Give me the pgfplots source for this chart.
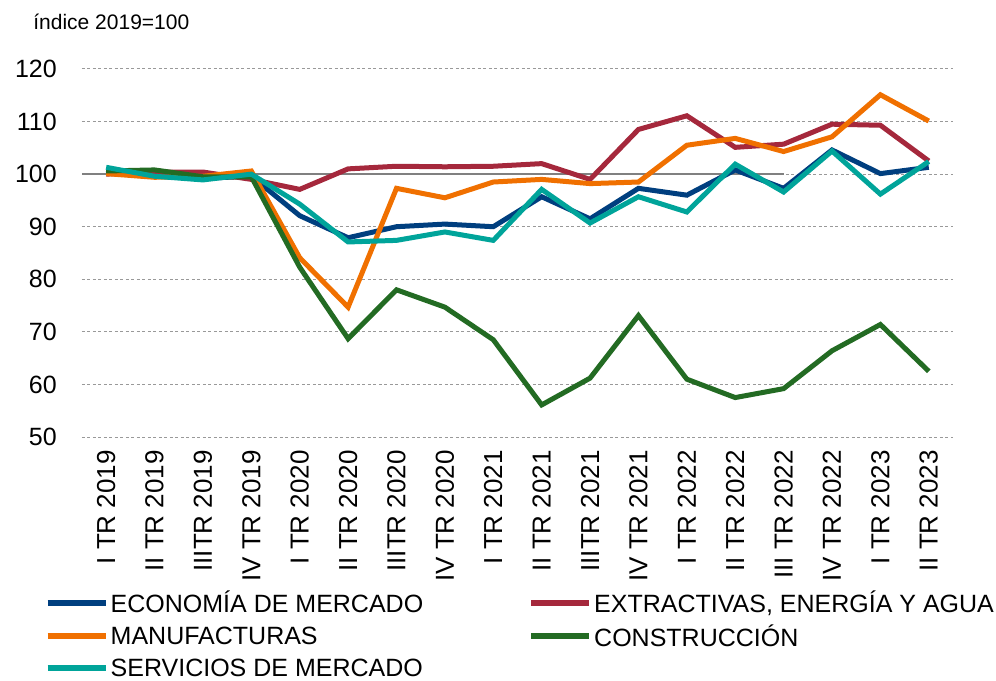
\documentclass[border=0pt]{standalone}
\usepackage{fontspec}
\setmainfont{Liberation Sans}
\usepackage{pgfplots}
\pgfplotsset{compat=1.18}
\definecolor{cEco}{RGB}{0,63,127}
\definecolor{cExt}{RGB}{165,40,60}
\definecolor{cMan}{RGB}{240,112,0}
\definecolor{cCon}{RGB}{35,107,35}
\definecolor{cSer}{RGB}{0,164,154}

\begin{document}
\begin{tikzpicture}
\begin{axis}[
    scale only axis, width=871pt, height=368pt,
    xmin=-0.5, xmax=17.5, ymin=50, ymax=120,
    ytick={50,60,...,120},
    xtick={0,...,17},
    xticklabels={I TR 2019, II TR 2019, IIITR 2019, IV TR 2019,
      I TR 2020, II TR 2020, IIITR 2020, IV TR 2020,
      I TR 2021, II TR 2021, IIITR 2021, IV TR 2021,
      I TR 2022, II TR 2022, III TR 2022, IV TR 2022,
      I TR 2023, II TR 2023},
    /pgf/number format/assume math mode=true,
    axis line style={draw=none}, major tick length=0pt,
    ymajorgrids, grid style={black!40, line width=1pt, dash pattern=on 3pt off 2.5pt},
    yticklabel style={font=\fontsize{25}{28}\selectfont, anchor=east, inner sep=0pt, xshift=-25pt},
    xticklabel style={font=\fontsize{26}{28}\selectfont, rotate=90, anchor=east, inner sep=0pt, xshift=-13pt},
    every axis plot/.append style={line width=5pt},
    legend columns=2,
    legend style={draw=none, fill=none, at={(rel axis cs:-0.043,-0.413)}, anchor=north west,
      font=\fontsize{25}{30}\selectfont, row sep=6.5pt, inner sep=0pt,
      cells={anchor=west}, /tikz/column 2/.style={column sep=103pt}},
    legend image code/.code={\draw[#1, line width=6pt] (0pt,0pt) -- (58pt,0pt);},
    legend cell align=left,
  ]
  \addplot[black!50, line width=1.5pt, forget plot] coordinates {(-0.5,100) (14,100)};
  \addplot[cEco] coordinates {(0,100.8) (1,99.8) (2,99.2) (3,99.6) (4,92.1) (5,87.9)
    (6,90.0) (7,90.5) (8,90.0) (9,95.7) (10,91.5) (11,97.3) (12,96.0) (13,100.8)
    (14,97.3) (15,104.6) (16,100.1) (17,101.3)};
  \addlegendentry{ECONOMÍA DE MERCADO}
  \addplot[cExt] coordinates {(0,100.0) (1,100.4) (2,100.4) (3,99.0) (4,97.1) (5,101.0)
    (6,101.5) (7,101.4) (8,101.5) (9,102.0) (10,99.0) (11,108.5) (12,111.1) (13,105.1)
    (14,105.7) (15,109.5) (16,109.3) (17,102.5)};
  \addlegendentry{EXTRACTIVAS, ENERGÍA Y AGUA}
  \addplot[cMan] coordinates {(0,100.1) (1,99.4) (2,99.6) (3,100.6) (4,84.1) (5,74.7)
    (6,97.3) (7,95.5) (8,98.5) (9,99.0) (10,98.2) (11,98.5) (12,105.5) (13,106.8)
    (14,104.3) (15,107.1) (16,115.1) (17,110.1)};
  \addlegendentry{MANUFACTURAS}
  \addplot[cCon] coordinates {(0,100.6) (1,100.8) (2,99.5) (3,99.5) (4,82.3) (5,68.7)
    (6,78.0) (7,74.7) (8,68.5) (9,56.1) (10,61.2) (11,73.1) (12,61.0) (13,57.5)
    (14,59.2) (15,66.4) (16,71.4) (17,62.5)};
  \addlegendentry{CONSTRUCCIÓN}
  \addplot[cSer] coordinates {(0,101.3) (1,99.6) (2,98.9) (3,100.0) (4,94.3) (5,87.1)
    (6,87.4) (7,89.0) (8,87.4) (9,97.1) (10,90.7) (11,95.7) (12,92.8) (13,101.9)
    (14,96.6) (15,104.4) (16,96.2) (17,102.4)};
  \addlegendentry{SERVICIOS DE MERCADO}
  \coordinate (ttl) at (rel axis cs:-0.056,1.106);
  \coordinate (bl) at (rel axis cs:-0.0941,-0.663);
  \coordinate (tr) at (rel axis cs:1.0494,1.1875);
\end{axis}
\node[anchor=base west, inner sep=0pt, font=\fontsize{21}{24}\selectfont]
  at (ttl) {índice 2019=100};
\pgfresetboundingbox
\useasboundingbox (bl) rectangle (tr);
\end{tikzpicture}
\end{document}
